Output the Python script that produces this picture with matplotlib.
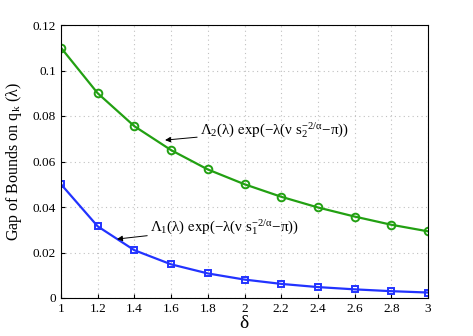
import matplotlib
matplotlib.use("Agg")
import matplotlib.pyplot as plt

plt.rcParams['font.family'] = ['Liberation Serif', 'DejaVu Serif']
plt.rcParams['mathtext.fontset'] = 'stix'
plt.rcParams['mathtext.default'] = 'regular'

delta = [1.0, 1.2, 1.4, 1.6, 1.8, 2.0, 2.2, 2.4, 2.6, 2.8, 3.0]
gap2 = [0.110, 0.090, 0.0755, 0.065, 0.0565, 0.050, 0.0445, 0.0398, 0.0358, 0.0322, 0.0293]
gap1 = [0.050, 0.0315, 0.021, 0.0148, 0.0108, 0.0081, 0.0062, 0.0048, 0.0038, 0.0030, 0.0024]
xticks = [1, 1.2, 1.4, 1.6, 1.8, 2, 2.2, 2.4, 2.6, 2.8, 3]
xticklabels = ['1', '1.2', '1.4', '1.6', '1.8', '2', '2.2', '2.4', '2.6', '2.8', '3']
yticks = [0, 0.02, 0.04, 0.06, 0.08, 0.1, 0.12]
yticklabels = ['0', '0.02', '0.04', '0.06', '0.08', '0.1', '0.12']

fig = plt.figure(figsize=(4.73, 3.36), dpi=100)
ax = fig.add_axes([61/473, 1-298/336, (428-61)/473, (298-25)/336])

ax.plot(delta, gap2, color='#22a012', lw=1.6, marker='o', ms=5.5, mfc='none', mew=1.4)
ax.plot(delta, gap1, color='#2233ff', lw=1.6, marker='s', ms=4.8, mfc='none', mew=1.4)

ax.set_xlim(1, 3)
ax.set_ylim(0, 0.12)
ax.set_xticks(xticks)
ax.set_xticklabels(xticklabels)
ax.set_yticks(yticks)
ax.set_yticklabels(yticklabels)
ax.tick_params(direction='in', labelsize=9.5, length=3)
ax.grid(True, linestyle=(0, (1, 3)), color='#c0c0c0', lw=0.8)
for s in ax.spines.values():
    s.set_linewidth(0.8)

ax.set_xlabel(r'$\delta$', fontsize=14, labelpad=0)
ax.set_ylabel(r'Gap of Bounds on q$_k$ ($\lambda$)', fontsize=11.5, labelpad=6)

ax.annotate(r'$\Lambda_2(\lambda)\ \exp(-\lambda(\nu\ s_2^{-2/\alpha}\!-\!\pi))$',
            xy=(1.567, 0.0694), xytext=(1.757, 0.0738), fontsize=10.8, va='center',
            arrowprops=dict(arrowstyle='-|>', color='black', lw=0.7, mutation_scale=8,
                            shrinkA=0, shrinkB=0))
ax.annotate(r'$\Lambda_1(\lambda)\ \exp(-\lambda(\nu\ s_1^{-2/\alpha}\!-\!\pi))$',
            xy=(1.305, 0.0259), xytext=(1.485, 0.0312), fontsize=10.8, va='center',
            arrowprops=dict(arrowstyle='-|>', color='black', lw=0.7, mutation_scale=8,
                            shrinkA=0, shrinkB=0))

fig.savefig('out.png', dpi=100)
